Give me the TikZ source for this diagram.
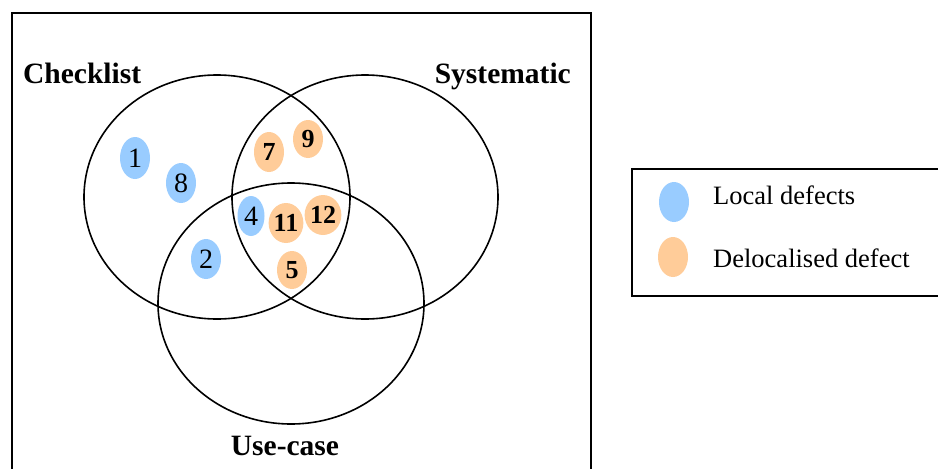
\documentclass[tikz,border=0pt]{standalone}
\usepackage{fontspec}
\setmainfont{Liberation Serif}
\usetikzlibrary{shapes.geometric}
\definecolor{locblue}{RGB}{153,204,255}
\definecolor{delorange}{RGB}{255,204,153}
\tikzset{
  venn/.style={draw=black, line width=1.6pt, ellipse, minimum width=266pt, minimum height=244pt, inner sep=0pt},
  loc/.style={ellipse, fill=locblue, minimum width=30pt, minimum height=40pt, inner sep=0pt, font=\fontsize{28}{28}\selectfont},
  deloc/.style={ellipse, fill=delorange, minimum width=30pt, minimum height=40pt, inner sep=0pt, font=\fontsize{26}{26}\selectfont\bfseries},
  setlabel/.style={font=\fontsize{29.5}{29.5}\selectfont\bfseries, inner sep=0pt, anchor=base},
  legtext/.style={font=\fontsize{26.5}{26.5}\selectfont, inner sep=0pt, anchor=base west},
  frame/.style={draw=black, line width=2pt}
}
\begin{document}
\begin{tikzpicture}[x=1pt,y=-1pt]
\useasboundingbox (0,0) rectangle (938,469);
% outer frame
\draw[frame] (12,472) -- (12,13) -- (591,13) -- (591,472);
% Venn ellipses
\node[venn] (check) at (217,197) {};
\node[venn] (syst) at (365,197) {};
\node[venn, minimum height=241pt] (use) at (291,303.5) {};
% labels
\node[setlabel, anchor=base west] (lcheck) at (23,83) {Checklist};
\node[setlabel, anchor=base east] (lsyst) at (571,83) {Systematic};
\node[setlabel] (luse) at (285,455) {Use-case};
% defects
\node[loc, minimum height=42pt] (d1) at (135,158) {1};
\node[loc] (d8) at (181,183) {8};
\node[loc] (d2) at (206,259) {2};
\node[loc, minimum width=27pt] (d4) at (251,216) {4};
\node[deloc] (d7) at (269,152) {7};
\node[deloc, minimum height=38pt] (d9) at (308,139) {9};
\node[deloc, minimum width=32pt] (d11) at (286,223) {11};
\node[deloc, minimum width=32pt] (d12) at (323,215) {12};
\node[deloc, minimum height=38pt] (d5) at (292,270) {5};
% legend
\draw[frame] (945,169) -- (632,169) -- (632,296) -- (945,296);
\node[loc] (kloc) at (674,202) {};
\node[deloc] (kdel) at (673,257) {};
\node[legtext] (tloc) at (713,204) {Local defects};
\node[legtext] (tdel) at (713,267) {Delocalised defect};
\end{tikzpicture}
\end{document}
